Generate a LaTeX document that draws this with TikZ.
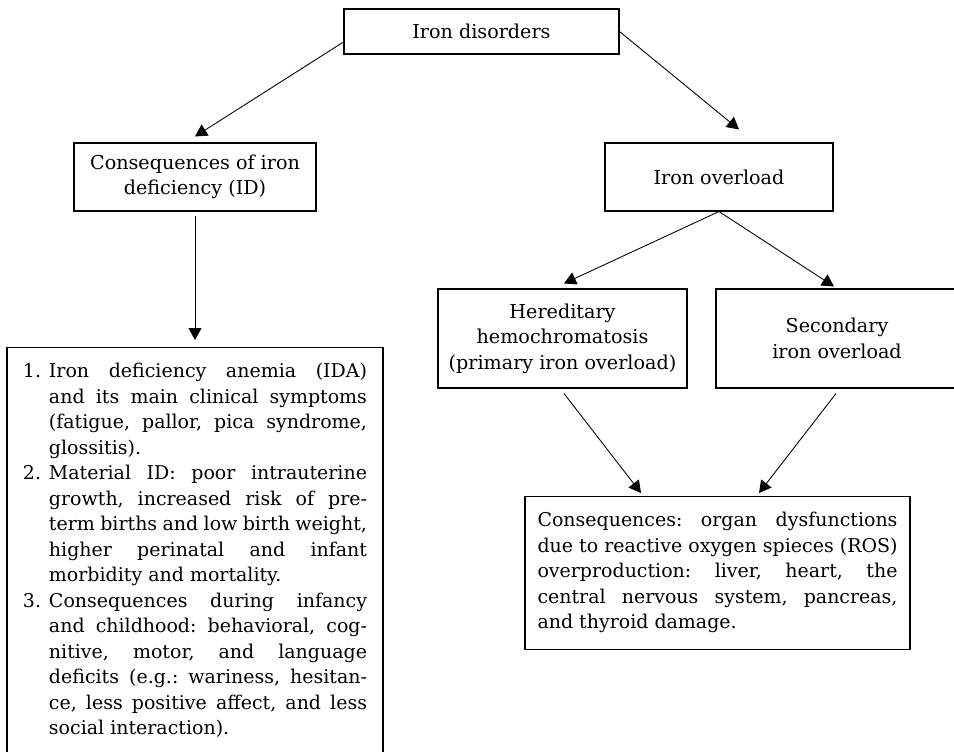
\documentclass[tikz,border=0pt]{standalone}
\usepackage{fontspec}
\setmainfont{DejaVu Serif}
\frenchspacing
\usetikzlibrary{arrows.meta}
\tikzset{
  box/.style={draw, line width=0.6pt, align=center, font=\fontsize{10.9}{14.5}\selectfont},
  textbox/.style={draw, line width=0.6pt, align=justify, font=\fontsize{10.8}{14.5}\selectfont},
  arr/.style={-{Triangle[length=0.24cm,width=0.26cm]}, line width=0.5pt}
}
\newcommand{\listitem}[1]{\hangindent=0.52cm\hangafter=1\noindent\makebox[0.52cm][l]{#1}}
\begin{document}
\begin{tikzpicture}
\useasboundingbox (0,0) rectangle (19.08,-15.04);
\clip (0,0) rectangle (19.08,-15.04);
\node (dis) at (9.63,-0.63) [box, minimum width=5.5cm, minimum height=0.9cm] {Iron disorders};
	\node (cid) at (3.9,-3.54) [box, minimum width=4.84cm, minimum height=1.36cm] {Consequences of iron\\deficiency (ID)};
		\node (lst) at (3.9,-6.94) [textbox, anchor=north, text width=6.88cm, inner xsep=0.32cm, inner ysep=0.32cm] {%
\listitem{1.}Iron deficiency anemia (IDA)\linebreak and its main clinical symptoms\linebreak (fatigue, pallor, pica syndrome,\linebreak glossitis).\par
\listitem{2.}Material ID: poor intrauterine\linebreak growth, increased risk of pre-\linebreak term births and low birth weight,\linebreak higher perinatal and infant\linebreak morbidity and mortality.\par
\listitem{3.}Consequences during infancy\linebreak and childhood: behavioral, cog-\linebreak nitive, motor, and language\linebreak deficits (e.g.: wariness, hesitan-\linebreak ce, less positive affect, and less\linebreak social interaction).\par};
	\node (ovl) at (14.38,-3.54) [box, minimum width=4.56cm, minimum height=1.36cm] {Iron overload};
		\node (her) at (11.25,-6.77) [box, minimum width=4.98cm, minimum height=1.98cm] {Hereditary\\hemochromatosis\\(primary iron overload)};
		\node (sec) at (16.74,-6.77) [box, minimum width=4.84cm, minimum height=1.98cm] {Secondary\\iron overload};
			\node (res) at (14.35,-9.92) [textbox, anchor=north, text width=7.2cm, inner xsep=0.25cm, inner ysep=0.32cm] {%
Consequences: organ dysfunctions\linebreak due to reactive oxygen spieces (ROS)\linebreak overproduction: liver, heart, the\linebreak central nervous system, pancreas,\linebreak and thyroid damage.};
\draw[arr] ([yshift=-0.21cm]dis.west) -- ([yshift=0.12cm]cid.north);
\draw[arr] (dis.east) -- ([xshift=0.4cm,yshift=0.26cm]ovl.north);
\draw[arr] ([yshift=-0.08cm]cid.south) -- ([yshift=0.14cm]lst.north);
\draw[arr] (ovl.south) -- ([xshift=0.03cm,yshift=0.1cm]her.north);
\draw[arr] (ovl.south) -- ([xshift=-0.06cm,yshift=0.04cm]sec.north);
\draw[arr] ([xshift=0.03cm,yshift=-0.1cm]her.south) -- ([xshift=-1.53cm,yshift=0.06cm]res.north);
\draw[arr] ([xshift=-0.02cm,yshift=-0.1cm]sec.south) -- ([xshift=0.83cm,yshift=0.06cm]res.north);
\end{tikzpicture}
\end{document}
